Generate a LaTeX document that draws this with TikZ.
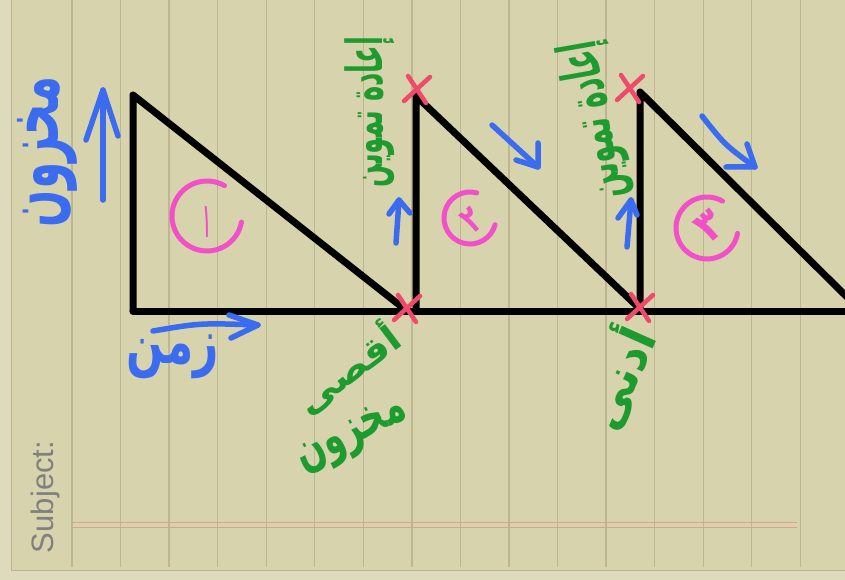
\documentclass[tikz,border=0pt]{standalone}
\usepackage{fontspec}
\usepackage{graphicx}
\setsansfont{Liberation Sans}
\newfontfamily\arabicfont[Script=Arabic]{DejaVu Sans}
\TeXXeTstate=1
\newcommand{\artxt}[3]{\resizebox*{#1}{#2}{\arabicfont\bfseries\beginR #3\endR}}
\definecolor{paper}{HTML}{D7D3AD}
\definecolor{paperout}{HTML}{DEDBBD}
\definecolor{rule}{HTML}{BDB690}
\definecolor{margin}{HTML}{D9A38E}
\definecolor{inkblue}{HTML}{3B6CF0}
\definecolor{inkgreen}{HTML}{1E9B2E}
\definecolor{inkpink}{HTML}{F250C8}
\definecolor{inkred}{HTML}{F04A6A}
\tikzset{
  axisline/.style={line width=7pt, line cap=round, line join=round, black},
  bluepen/.style={line width=5.5pt, line cap=round, line join=round, inkblue},
  pinkpen/.style={line width=5pt, line cap=round, inkpink},
  redpen/.style={line width=4.5pt, line cap=round, inkred},
  rulepen/.style={line width=1.3pt, rule},
  word/.style={inner sep=0pt, outer sep=0pt}
}
\begin{document}
\begin{tikzpicture}[x=1pt,y=-1pt]
\useasboundingbox (0,0) rectangle (845,580);
\fill[paperout] (0,0) rectangle (845,580);
\fill[paper] (11,0) rectangle (845,570);
\draw[line width=0.8pt, rule] (11,0) -- (11,570) -- (845,570);
% ruled lines
\foreach \k in {0,...,15} {
  \draw[rulepen] ({72+48.55*\k},0) -- ({72+48.55*\k},567);
}
% margin double line
\draw[line width=0.8pt, margin] (72,522) -- (797,522);
\draw[line width=0.8pt, margin] (72,527) -- (797,527);
% Subject
\node[word, rotate=90, text=gray, font=\sffamily\fontsize{31}{31}\selectfont] (subj) at (45,497) {Subject:};

% coordinates of the sawtooth
\coordinate (a1) at (133,95);
\coordinate (b1) at (133,311);
\coordinate (c1) at (407,311);
\coordinate (a2) at (416,96);
\coordinate (b2) at (416,311);
\coordinate (c2) at (640,309);
\coordinate (a3) at (640,92);
\coordinate (b3) at (640,311);
\coordinate (e3) at (850,300);
\coordinate (eb) at (850,311);
\draw[axisline] (b1) -- (a1) -- (c1);
\draw[axisline] (b1) -- (eb);
\draw[axisline] (b2) -- (a2) -- (c2);
\draw[axisline] (b3) -- (a3) -- (e3);

% red crosses
\foreach \n/\cx/\cy in {x1/407/308, x2/417/89, x3/630/88, x4/640/307} {
  \coordinate (\n) at (\cx,\cy);
  \draw[redpen] ([shift={(-13,12)}]\n) -- ([shift={(13,-12)}]\n);
  \draw[redpen] ([shift={(-9,-13)}]\n) -- ([shift={(9,14)}]\n);
}

% circled numbers
\coordinate (o1) at (207,216);
\coordinate (o2) at (470,218);
\coordinate (o3) at (707,228);
\draw[pinkpen] ([shift={(-60:35)}]o1) arc[start angle=-60, end angle=-350, radius=35];
\draw[pinkpen] ([shift={(-75:26)}]o2) arc[start angle=-75, end angle=-345, radius=26];
\draw[pinkpen] ([shift={(-60:31)}]o3) arc[start angle=-60, end angle=-350, radius=31];
\node[word, text=inkpink] (n1) at (207,222) {\artxt{7pt}{31pt}{١}};
\node[word, text=inkpink, rotate=40] (n2) at (472,220) {\artxt{16pt}{24pt}{٢}};
\node[word, text=inkpink, rotate=40] (n3) at (710,226) {\artxt{24pt}{28pt}{٣}};

% blue arrows
\coordinate (ua1) at (103,200); \coordinate (ua2) at (103,90);
\draw[bluepen] (ua1) -- (ua2);
\draw[bluepen] (86,140) -- (ua2) -- (118,136);
\coordinate (ra1) at (153,331); \coordinate (ra2) at (258,325);
\draw[bluepen] (ra1) .. controls (200,323) .. (ra2);
\draw[bluepen] (229,315) -- (ra2) -- (231,338);
\coordinate (sa1) at (396,243); \coordinate (sa2) at (399,200);
\draw[bluepen] (sa1) -- (sa2);
\draw[bluepen] (389,214) -- (sa2) -- (410,213);
\coordinate (ta1) at (627,247); \coordinate (ta2) at (631,200);
\draw[bluepen] (ta1) -- (ta2);
\draw[bluepen] (618,218) -- (ta2) -- (637,215);
\coordinate (da1) at (492,125); \coordinate (da2) at (538,167);
\draw[bluepen] (da1) -- (da2);
\draw[bluepen] (516,160) -- (da2) -- (538,143);
\coordinate (db1) at (702,116); \coordinate (db2) at (755,167);
\draw[bluepen] (db1) .. controls (725,145) .. (db2);
\draw[bluepen] (726,167) -- (db2) -- (747,144);

% blue words
\node[word, rotate=90, text=inkblue] (stock) at (47,152) {\artxt{150pt}{60pt}{مخزون}};
\node[word, text=inkblue] (time) at (173,357) {\artxt{92pt}{44pt}{زمن}};

% green words
\node[word, rotate=37, text=inkgreen] (max1) at (347,368) {\artxt{120pt}{40pt}{أقصى}};
\node[word, rotate=27, text=inkgreen] (max2) at (353,437) {\artxt{118pt}{40pt}{مخزون}};
\node[word, rotate=90, text=inkgreen] (reord1) at (370,112) {\artxt{150pt}{50pt}{إعادة تموين}};
\node[word, rotate=100, text=inkgreen] (reord2) at (595,120) {\artxt{160pt}{55pt}{إعادة تموين}};
\node[word, rotate=66, text=inkgreen] (min) at (617,377) {\artxt{105pt}{55pt}{أدنى}};
\end{tikzpicture}
\end{document}
